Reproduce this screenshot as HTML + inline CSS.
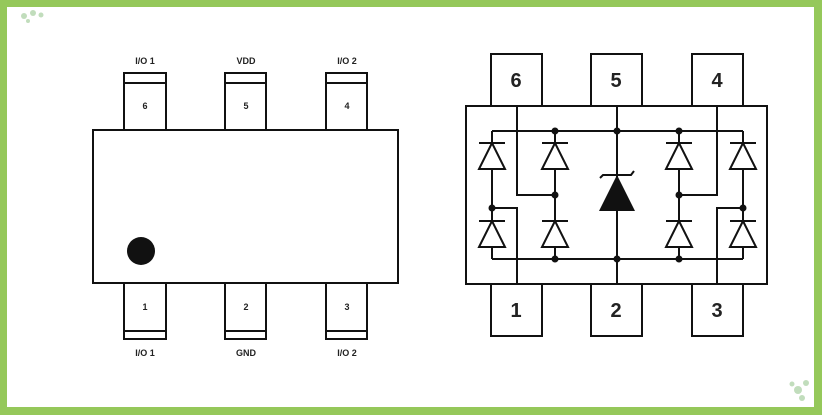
<!DOCTYPE html>
<html><head><meta charset="utf-8"><style>
html,body{margin:0;padding:0;background:#fff;}
body{width:822px;height:415px;overflow:hidden;}
</style></head><body>
<svg width="822" height="415" viewBox="0 0 822 415" xmlns="http://www.w3.org/2000/svg">
<rect x="0" y="0" width="822" height="415" fill="#95c85a"/>
<rect x="7" y="7" width="807" height="400" fill="#fff"/>
<g fill="#a8cfa0" opacity="0.7">
<circle cx="24" cy="16" r="3"/><circle cx="33" cy="13" r="3"/><circle cx="41" cy="15" r="2.5"/><circle cx="28" cy="21" r="2"/>
<circle cx="798" cy="390" r="4"/><circle cx="806" cy="383" r="3"/><circle cx="792" cy="384" r="2.5"/><circle cx="802" cy="398" r="3"/>
</g>
<g fill="none" stroke="#111" stroke-width="2">
<!-- left package -->
<rect x="93" y="130" width="305" height="153"/>
<rect x="124" y="73" width="42" height="57"/><line x1="124" y1="83" x2="166" y2="83"/>
<rect x="225" y="73" width="41" height="57"/><line x1="225" y1="83" x2="266" y2="83"/>
<rect x="326" y="73" width="41" height="57"/><line x1="326" y1="83" x2="367" y2="83"/>
<rect x="124" y="283" width="42" height="56"/><line x1="124" y1="331" x2="166" y2="331"/>
<rect x="225" y="283" width="41" height="56"/><line x1="225" y1="331" x2="266" y2="331"/>
<rect x="326" y="283" width="41" height="56"/><line x1="326" y1="331" x2="367" y2="331"/>
</g>
<circle cx="141" cy="251" r="14" fill="#111"/>
<g font-family="Liberation Sans, sans-serif" font-weight="bold" font-size="9" fill="#222" text-anchor="middle">
<text x="145" y="64">I/O 1</text><text x="246" y="64">VDD</text><text x="347" y="64">I/O 2</text>
<text x="145" y="109">6</text><text x="246" y="109">5</text><text x="347" y="109">4</text>
<text x="145" y="310">1</text><text x="246" y="310">2</text><text x="347" y="310">3</text>
<text x="145" y="356">I/O 1</text><text x="246" y="356">GND</text><text x="347" y="356">I/O 2</text>
</g>
<!-- right schematic -->
<g fill="none" stroke="#111" stroke-width="2">
<rect x="466" y="106" width="301" height="178"/>
<rect x="491" y="54" width="51" height="52"/><rect x="591" y="54" width="51" height="52"/><rect x="692" y="54" width="51" height="52"/>
<rect x="491" y="284" width="51" height="52"/><rect x="591" y="284" width="51" height="52"/><rect x="692" y="284" width="51" height="52"/>
<polyline points="492,131 743,131"/><polyline points="492,259 743,259"/>
<line x1="492" y1="131" x2="492" y2="259"/><line x1="555" y1="131" x2="555" y2="259"/>
<line x1="679" y1="131" x2="679" y2="259"/><line x1="743" y1="131" x2="743" y2="259"/>
<line x1="617" y1="106" x2="617" y2="284"/>
<polyline points="517,106 517,195 555,195"/><polyline points="517,284 517,208 492,208"/>
<polyline points="717,106 717,195 679,195"/><polyline points="717,284 717,208 743,208"/>
</g>
<g fill="#fff" stroke="#111" stroke-width="2">
<polygon points="492,143 479,169 505,169"/><polygon points="555,143 542,169 568,169"/>
<polygon points="679,143 666,169 692,169"/><polygon points="743,143 730,169 756,169"/>
<polygon points="492,221 479,247 505,247"/><polygon points="555,221 542,247 568,247"/>
<polygon points="679,221 666,247 692,247"/><polygon points="743,221 730,247 756,247"/>
</g>
<g stroke="#111" stroke-width="2">
<line x1="479" y1="143" x2="505" y2="143"/><line x1="542" y1="143" x2="568" y2="143"/>
<line x1="666" y1="143" x2="692" y2="143"/><line x1="730" y1="143" x2="756" y2="143"/>
<line x1="479" y1="221" x2="505" y2="221"/><line x1="542" y1="221" x2="568" y2="221"/>
<line x1="666" y1="221" x2="692" y2="221"/><line x1="730" y1="221" x2="756" y2="221"/>
</g>
<polygon points="617,175 599,211 635,211" fill="#111"/>
<polyline points="600,178 603,175 631,175 634,171" fill="none" stroke="#111" stroke-width="2"/>
<g fill="#111">
<circle cx="555" cy="131" r="3.5"/><circle cx="617" cy="131" r="3.5"/><circle cx="679" cy="131" r="3.5"/>
<circle cx="555" cy="259" r="3.5"/><circle cx="617" cy="259" r="3.5"/><circle cx="679" cy="259" r="3.5"/>
<circle cx="555" cy="195" r="3.5"/><circle cx="679" cy="195" r="3.5"/>
<circle cx="492" cy="208" r="3.5"/><circle cx="743" cy="208" r="3.5"/>
</g>
<g font-family="Liberation Sans, sans-serif" font-weight="bold" font-size="20" fill="#222" text-anchor="middle">
<text x="516" y="87">6</text><text x="616" y="87">5</text><text x="717" y="87">4</text>
<text x="516" y="317">1</text><text x="616" y="317">2</text><text x="717" y="317">3</text>
</g>
</svg>
</body></html>
